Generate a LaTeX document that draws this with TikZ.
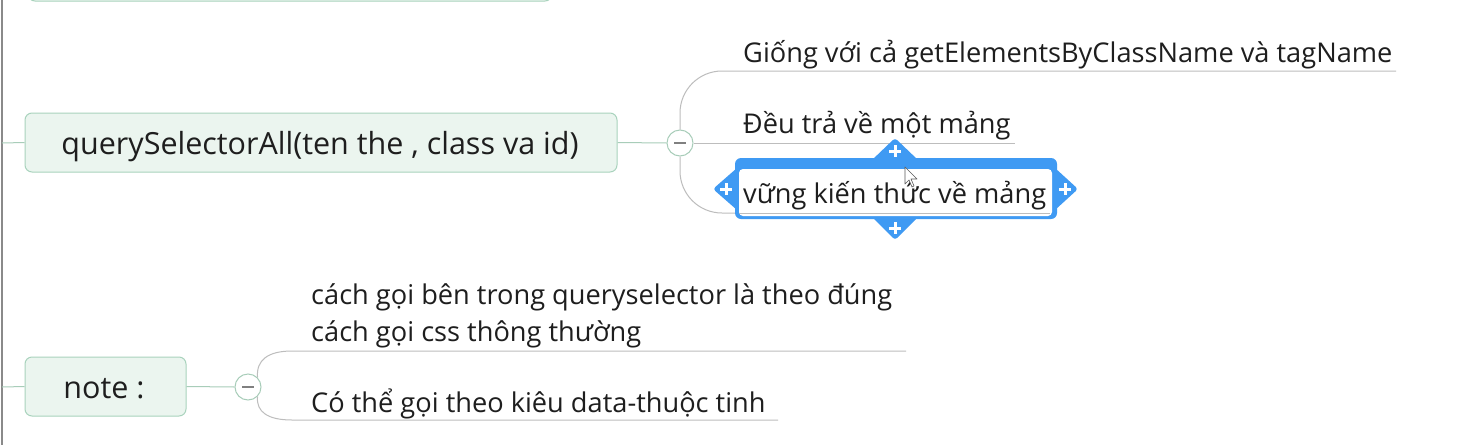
\documentclass[tikz,border=0pt]{standalone}
\usepackage{fontspec}
\setmainfont{Open Sans}
\definecolor{nodefill}{HTML}{EBF5EF}
\definecolor{nodeedge}{HTML}{A9D3BD}
\definecolor{linkgreen}{HTML}{A8CDB9}
\definecolor{branch}{HTML}{BDBDBD}
\definecolor{txt}{HTML}{1E1E1E}
\definecolor{selblue}{HTML}{3F9AF3}
\definecolor{frame}{HTML}{8A8A8A}
\begin{document}
\begin{tikzpicture}[x=1pt,y=-1pt,
  topic/.style={draw=nodeedge,fill=nodefill,line width=1pt,rounded corners=7pt},
  lbl/.style={inner sep=0pt,anchor=base west,text=txt,font=\fontsize{27.2}{33}\selectfont},
  ctr/.style={inner sep=0pt,anchor=base,text=txt,font=\fontsize{30.5}{36}\selectfont},
  link/.style={draw=linkgreen,line width=1pt},
  br/.style={draw=branch,line width=1pt},
  toggle/.style={circle,draw=linkgreen,fill=white,line width=1pt,minimum size=26pt,inner sep=0pt},
  plusmark/.style={draw=white,line width=3pt}]
\useasboundingbox (0,0) rectangle (1483,445);
\fill[white] (0,0) rectangle (1483,445);
% left frame
\draw[frame,line width=2pt] (2,0) -- (2,445);
% top partial topic
\begin{scope}
\clip (0,0) rectangle (1483,445);
\draw[topic] (28,-40) rectangle (552,1);
\end{scope}

% querySelectorAll topic
\node[topic,minimum width=592pt,minimum height=59pt,inner sep=0pt] (qsa) at (321,142.5) {};
\node[ctr] (qsat) at (320,154) {querySelectorAll(ten the , class va id)};
\coordinate (qin) at (2,143);
\draw[link] (qin) -- (qsa.west);
\node[toggle] (t1) at (680,143) {};
\draw[link] (qsa.east) -- (t1.west);
\draw[draw=gray,line width=1.2pt] ([xshift=-6pt]t1.center) -- ([xshift=6pt]t1.center);

% children of querySelectorAll
\node[lbl] (c1) at (743,62) {Giống với cả getElementsByClassName và tagName};
\node[lbl] (c2) at (743,133) {Đều trả về một mảng};
\coordinate (c1e) at (1396,71);
\coordinate (c2e) at (1015,143);
\coordinate (c3e) at (736,213);
\draw[br,rounded corners=42pt] (t1.north) |- (c1e);
\draw[br] (t1.east) -- (c2e);
\draw[br,rounded corners=42pt] (t1.south) |- (c3e);

% selected child
\fill[selblue,rounded corners=6pt] (735,158) rectangle (1057,219);
\fill[selblue,rounded corners=3pt] (872,160) -- (895,138) -- (918,160) -- cycle;
\fill[selblue,rounded corners=3pt] (872,217) -- (895,240) -- (918,217) -- cycle;
\fill[selblue,rounded corners=3pt] (737,168) -- (713,189) -- (737,210) -- cycle;
\fill[selblue,rounded corners=3pt] (1055,168) -- (1078,189) -- (1055,210) -- cycle;
\fill[white,rounded corners=4pt] (739,169) rectangle (1052,216);
\draw[br] (739,213) -- (1050,213);
\node[lbl] (c3) at (743,203) {vững kiến thức về mảng};
\foreach \px/\py in {895/151, 895/228, 726/189, 1065/189}{
  \draw[plusmark] (\px-6,\py) -- (\px+6,\py);
  \draw[plusmark] (\px,\py-6) -- (\px,\py+6);
}
% mouse pointer
\draw[fill=white,draw=gray!70!black,line width=0.6pt,line join=round]
  (905,167) -- (905,184) -- (909,180) -- (912,187) -- (914,186) -- (911,179) -- (917,179) -- cycle;

% note topic
\node[topic,minimum width=161pt,minimum height=59pt,inner sep=0pt] (note) at (105.5,386.5) {};
\node[ctr] (notet) at (104,398) {note :};
\coordinate (nin) at (2,387);
\draw[link] (nin) -- (note.west);
\node[toggle] (t2) at (248,387) {};
\draw[link] (note.east) -- (t2.west);
\draw[draw=gray,line width=1.2pt] ([xshift=-6pt]t2.center) -- ([xshift=6pt]t2.center);

\node[lbl] (n1) at (311,304) {cách gọi bên trong queryselector là theo đúng};
\node[lbl] (n1b) at (311,341) {cách gọi css thông thường};
\node[lbl] (n2) at (311,412) {Có thể gọi theo kiêu data-thuộc tinh};
\coordinate (n1e) at (906,351);
\coordinate (n2e) at (778,420);
\draw[br] (t2.north east) .. controls (256,360) and (268,351) .. (292,351) -- (n1e);
\draw[br] (t2.south east) .. controls (256,412) and (268,420) .. (292,420) -- (n2e);
\end{tikzpicture}
\end{document}
